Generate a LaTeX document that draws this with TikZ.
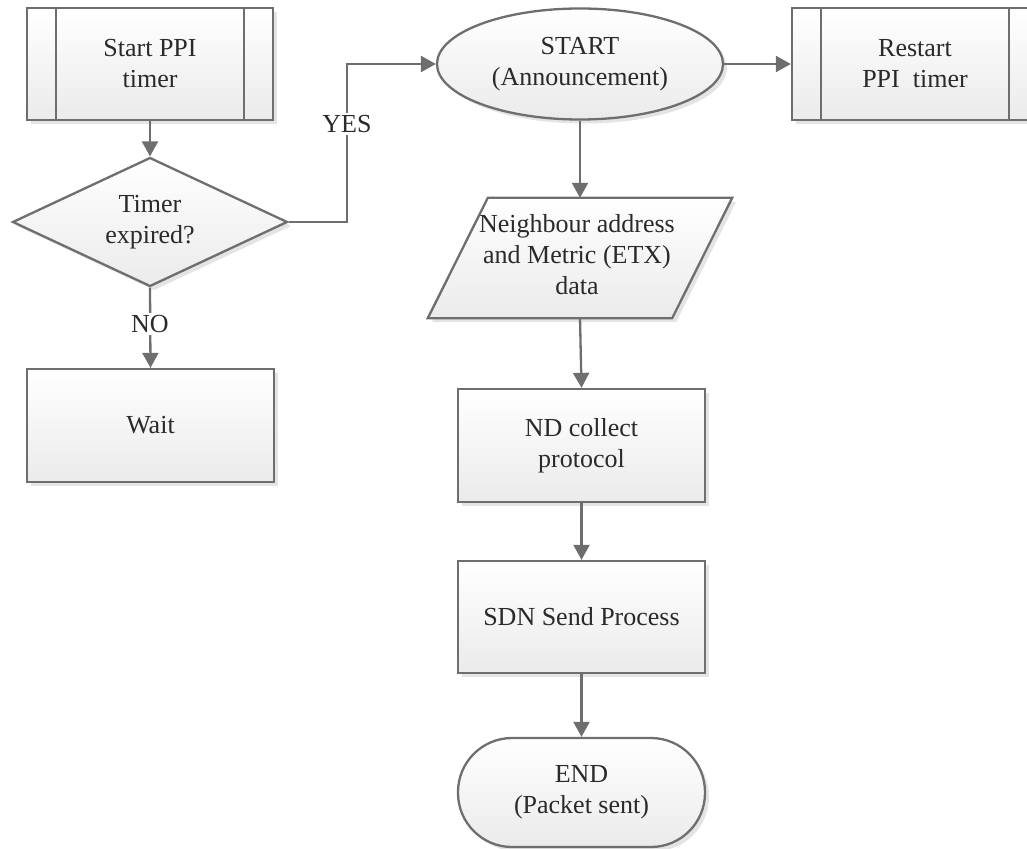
\documentclass[tikz,border=0pt]{standalone}
\usepackage{fontspec}
\setmainfont{Liberation Serif}
\usetikzlibrary{arrows.meta,shapes.geometric,shadows,calc}

\definecolor{edgegray}{HTML}{6E6E6E}
\definecolor{inkgray}{HTML}{2A2A2A}
\definecolor{shadegray}{HTML}{E4E4E4}

\tikzset{
  boxlook/.style={draw=edgegray, line width=2.3pt,
    top color=white, bottom color=black!8,
    general shadow={fill=shadegray, shadow xshift=4pt, shadow yshift=-4pt}},
  label text/.style={font=\fontsize{26}{31}\selectfont, text=inkgray, align=center},
  procbox/.style={boxlook, label text, rectangle, inner sep=0pt},
  predef/.style={procbox},
  decision/.style={boxlook, label text, diamond, aspect=2.1, inner sep=0pt},
  oval/.style={boxlook, label text, ellipse, inner sep=0pt},
  terminal/.style={boxlook, label text, rectangle, rounded corners=54pt, inner sep=0pt},
  flow/.style={draw=edgegray, line width=2.3pt, -{Triangle[width=16pt,length=15pt]}},
  plainline/.style={draw=edgegray, line width=2.3pt},
  edgelabel/.style={label text, fill=white, inner sep=2pt}
}

\begin{document}
\begin{tikzpicture}[x=1pt, y=-1pt]
  \useasboundingbox (0,0) rectangle (1027,848);

  % left column
  \node[predef, minimum width=246pt, minimum height=112pt] (sp) at (150,64) {Start PPI\\timer};
  \draw[plainline] ([xshift=30pt]sp.north west) -- ([xshift=30pt]sp.south west);
  \draw[plainline] ([xshift=-30pt]sp.north east) -- ([xshift=-30pt]sp.south east);

  \node[decision, minimum width=275pt, minimum height=129pt] (dec) at (150,222) {Timer\\expired?};

  \node[procbox, minimum width=247pt, minimum height=113pt] (wait) at (150.5,425.5) {Wait};

  % top row
  \node[oval, minimum width=286pt, minimum height=111pt] (start) at (580,64) {START\\(Announcement)};

  \node[predef, minimum width=246pt, minimum height=112pt] (restart) at (915,64) {Restart\\PPI\ \ timer};
  \draw[plainline] ([xshift=30pt]restart.north west) -- ([xshift=30pt]restart.south west);
  \draw[plainline] ([xshift=-30pt]restart.north east) -- ([xshift=-30pt]restart.south east);

  % data input (parallelogram drawn around an invisible text node)
  \node[label text, minimum width=304pt, minimum height=120pt, inner sep=0pt] (data) at (580,258) {};
  \path[boxlook] ([xshift=60pt]data.north west) -- (data.north east)
    -- ([xshift=-60pt]data.south east) -- (data.south west) -- cycle;
  \node[label text] (datatext) at (577,255) {Neighbour address\\and Metric (ETX)\\data};

  % main column
  \node[procbox, minimum width=247pt, minimum height=113pt] (nd) at (581.5,445.5) {ND collect\\protocol};
  \node[procbox, minimum width=247pt, minimum height=112pt] (sdn) at (581.5,617) {SDN Send Process};
  \node[terminal, minimum width=247pt, minimum height=109pt] (endn) at (581.5,792.5) {END\\(Packet sent)};

  % connectors
  \draw[flow] (sp.south) -- (dec.north);

  \coordinate (ycorner) at (347,64);
  \draw[flow] (dec.east) -| (ycorner) -- (start.west);
  \node[edgelabel] (yes) at (347,124) {YES};

  \draw[flow] (dec.south) -- (wait.north);
  \node[edgelabel] (no) at (150,324) {NO};

  \draw[flow] (start.east) -- (restart.west);
  \draw[flow] (start.south) -- (data.north);
  \draw[flow] (data.south) -- (nd.north);
  \draw[flow] (nd.south) -- (sdn.north);
  \draw[flow] (sdn.south) -- (endn.north);
\end{tikzpicture}
\end{document}
